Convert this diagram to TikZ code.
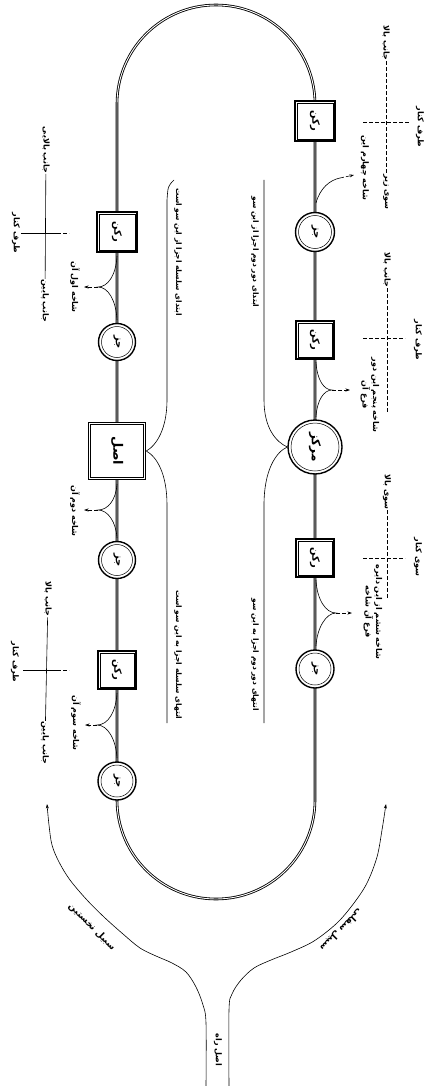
\documentclass[tikz,border=0pt]{standalone}
\usepackage{fontspec}
\newfontfamily\arfont[Script=Arabic]{DejaVu Sans}
\TeXXeTstate=1
\newcommand{\RL}[1]{\beginR #1\endR}
\usetikzlibrary{arrows.meta}
\begin{document}
\begin{tikzpicture}[x=1pt,y=-1pt,
  loopline/.style={line width=0.85pt,double=white,double distance=0.9pt},
  thinl/.style={line width=0.6pt},
  dashl/.style={line width=0.6pt,dash pattern=on 4pt off 2pt},
  arr/.style={-{Stealth[length=4.5pt,width=3pt]}},
  arlbl/.style={font=\arfont\bfseries\fontsize{8}{9.5}\selectfont,inner sep=0.6pt,align=center},
  lbl/.style={arlbl,rotate=-90},
  midlbl/.style={lbl,font=\arfont\bfseries\fontsize{7.5}{9}\selectfont},
  glyph/.style={font=\arfont\bfseries\fontsize{10}{11}\selectfont,inner sep=0pt,rotate=-90},
  sqbox/.style={rectangle,draw,line width=1.7pt,fill=white,minimum size=#1,inner sep=0pt},
  cirbox/.style={circle,draw,line width=1.4pt,fill=white,minimum size=#1,inner sep=0pt},
  inframe/.style={line width=0.5pt}
]
\useasboundingbox (0,0) rectangle (428,1086);
% main loop
\draw[loopline] (117,104) arc[start angle=180,end angle=0,radius=99pt] -- (315,800)
  arc[start angle=0,end angle=-180,radius=99pt] -- cycle;
% nodes on the loop
\node[sqbox=40pt] (sq1) at (117,232) {};
\node[cirbox=37pt] (c1) at (117,342) {};
\node[sqbox=57pt] (bsq) at (117,451) {};
\node[cirbox=37pt] (c2) at (117,560) {};
\node[sqbox=38pt] (sq3) at (117,670) {};
\node[cirbox=38pt] (c3) at (117,781) {};
\node[sqbox=40pt] (rsq1) at (315,121) {};
\node[cirbox=39pt] (rc1) at (315,232) {};
\node[sqbox=38pt] (rsq2) at (315,340) {};
\node[cirbox=54pt] (bc) at (315,447) {};
\node[sqbox=38pt] (rsq3) at (315,558) {};
\node[cirbox=38pt] (rc3) at (315,669) {};
\foreach \n in {sq1,bsq,sq3,rsq1,rsq2,rsq3}
  \draw[inframe] ([shift={(3pt,3pt)}]\n.south west) rectangle ([shift={(-3pt,-3pt)}]\n.north east);
\foreach \n/\r in {c1/15.5,c2/15.5,c3/16,rc1/16.5,bc/24,rc3/16}
  \draw[inframe] (\n) circle[radius=\r pt];
\foreach \n in {c1,c2,c3,rc1,rc3} \node[glyph] at (\n) {\RL{جز}};
\foreach \n in {sq1,sq3,rsq1,rsq2,rsq3} \node[glyph] at (\n) {\RL{رکن}};
\node[glyph,font=\arfont\bfseries\fontsize{13}{14}\selectfont] at (bsq) {\RL{اصل}};
\node[glyph,font=\arfont\bfseries\fontsize{12}{13}\selectfont] at (bc) {\RL{مرکز}};
% middle lines
\draw[thinl] (174,180) .. controls (168,186) .. (167,200) -- (167,400)
  .. controls (167,428) and (157,445) .. (bsq.east)
  .. controls (157,457) and (167,474) .. (167,505) -- (167,723);
\draw[thinl] (264,180) -- (264,400) .. controls (264,428) and (276,442) .. (bc.west)
  .. controls (276,452) and (264,470) .. (264,505) -- (264,723);
\node[midlbl] (mlu) at (178,252) {\RL{ابتدای سلسله اجزا از این سو است}};
\node[midlbl] (mll) at (178,655) {\RL{انتهای سلسله اجزا به این سو است}};
\node[midlbl] (mru) at (255,252) {\RL{ابتدای دور دوم اجزا از این سو}};
\node[midlbl] (mrl) at (255,655) {\RL{انتهای دور دوم اجزا به این سو}};
% left crosshair A
\node[lbl] (lAt) at (46,150) {\RL{جانب بالایی}};
\node[lbl] (lAb) at (45,301) {\RL{جانب پایین}};
\node[lbl] (lAl) at (16,233) {\RL{طرف کنار}};
\coordinate (lAm) at (57,233); \coordinate (lAr) at (69,233);
\draw[thinl] (lAt) -- (lAb);
\draw[thinl] (lAl) -- (lAm); \draw[dashl] (lAm) -- (lAr);
% left crosshair B
\node[lbl] (lBt) at (48,599) {\RL{جانب بالا}};
\node[lbl] (lBb) at (45,743) {\RL{جانب پایین}};
\node[lbl] (lBl) at (15,662) {\RL{طرف کنار}};
\coordinate (lBs) at (23,670); \coordinate (lBm) at (57,670); \coordinate (lBr) at (69,670);
\draw[thinl] (lBt) -- (lBb);
\draw[thinl] (lBs) -- (lBm); \draw[dashl] (lBm) -- (lBr);
% left forks
\coordinate (fA) at (98,287); \coordinate (fA1) at (117,256); \coordinate (fA2) at (117,320); \coordinate (fAe) at (84,287);
\draw[thinl] (fA1) .. controls (116,275) and (108,287) .. (fA) .. controls (108,287) and (116,300) .. (fA2);
\draw[dashl,arr] (fA) -- (fAe);
\node[lbl] (lfA) at (75,287) {\RL{شاخه اول آن}};
\coordinate (fB) at (98,510); \coordinate (fB1) at (117,484); \coordinate (fB2) at (117,538); \coordinate (fBe) at (84,510);
\draw[thinl] (fB1) .. controls (116,500) and (108,510) .. (fB) .. controls (108,510) and (116,522) .. (fB2);
\draw[dashl,arr] (fB) -- (fBe);
\node[lbl] (lfB) at (75,511) {\RL{شاخه دوم آن}};
\coordinate (fC) at (97,725); \coordinate (fC1) at (117,693); \coordinate (fC2) at (117,758); \coordinate (fCe) at (85,725);
\draw[thinl] (fC1) .. controls (116,712) and (108,725) .. (fC) .. controls (108,725) and (116,740) .. (fC2);
\draw[dashl,arr] (fC) -- (fCe);
\node[lbl] (lfC) at (76,723) {\RL{شاخه سوم آن}};
% right forks
\coordinate (rfA) at (340,178); \coordinate (rfA1) at (316,203); \coordinate (rfAe) at (354,175);
\draw[thinl] (rfA1) .. controls (320,188) and (330,180) .. (rfA);
\draw[dashl,arr] (rfA) -- (rfAe);
\node[lbl] (rlA) at (365,168) {\RL{شاخه چهارم این}};
\coordinate (rfB) at (332,390); \coordinate (rfB1) at (316,362); \coordinate (rfB2) at (316,417); \coordinate (rfBe) at (350,390);
\draw[thinl] (rfB1) .. controls (317,380) and (324,390) .. (rfB) .. controls (324,390) and (317,400) .. (rfB2);
\draw[dashl,arr] (rfB) -- (rfBe);
\node[lbl] (rlB) at (370,395) {\RL{شاخه پنجم این دور}\\\RL{فرع آن}};
\coordinate (rfC) at (336,613); \coordinate (rfC1) at (316,580); \coordinate (rfC2) at (316,646); \coordinate (rfCe) at (352,613);
\draw[thinl] (rfC1) .. controls (317,600) and (326,613) .. (rfC) .. controls (326,613) and (317,628) .. (rfC2);
\draw[dashl,arr] (rfC) -- (rfCe);
\node[lbl] (rlC) at (373,612) {\RL{شاخه ششم از این دایره}\\\RL{فرع آن شاخه}};
% right column
\node[lbl] (rT1) at (386,43) {\RL{جانب بالا}};
\node[lbl] (rT2) at (386,192) {\RL{سوی زیر}};
\draw[dashl] (rT1) -- (rT2);
\coordinate (rX1l) at (363,122); \coordinate (rX1e) at (410,122);
\draw[dashl] (rX1l) -- (rX1e);
\node[lbl] (rX1r) at (420,127) {\RL{طرف کنار}};
\node[lbl] (rT3) at (387,270) {\RL{جانب بالا}};
\coordinate (rV2e) at (387,412);
\draw[dashl] (rT3) -- (rV2e);
\coordinate (rX2l) at (363,338); \coordinate (rX2e) at (405,338);
\draw[dashl] (rX2l) -- (rX2e);
\node[lbl] (rX2r) at (418,340) {\RL{طرف کنار}};
\node[lbl] (rT4) at (387,492) {\RL{سوی بالا}};
\coordinate (rV3e) at (387,600);
\draw[dashl] (rT4) -- (rV3e);
\coordinate (rX3l) at (363,558); \coordinate (rX3e) at (405,558);
\draw[dashl] (rX3l) -- (rX3e);
\node[lbl] (rX3r) at (418,557) {\RL{سوی کنار}};
% stem and branches
\draw[thinl,arr] plot[smooth,tension=0.55] coordinates {(206,1086) (206,1023) (203,1005) (196,987) (186,972) (172,963) (156,956) (140,948) (123,934) (104,917) (87,900) (70,880) (59,862) (52,845) (49,825) (47,804)};
\draw[thinl,arr] plot[smooth,tension=0.55] coordinates {(229,1086) (229,1010) (232,994) (241,980) (254,968) (271,960) (291,952) (314,941) (337,923) (354,903) (367,883) (377,857) (382,830) (386,804)};
\node[lbl] (stem) at (218,1050) {\RL{اصل راه}};
\node[arlbl,rotate=-45,font=\arfont\bfseries\fontsize{9}{10}\selectfont] (brl) at (92,927) {\RL{سبیل نخستین}};
\node[arlbl,rotate=-135,font=\arfont\bfseries\fontsize{9}{10}\selectfont] (brr) at (341,930) {\RL{سبیل سفلی}};
\end{tikzpicture}
\end{document}
